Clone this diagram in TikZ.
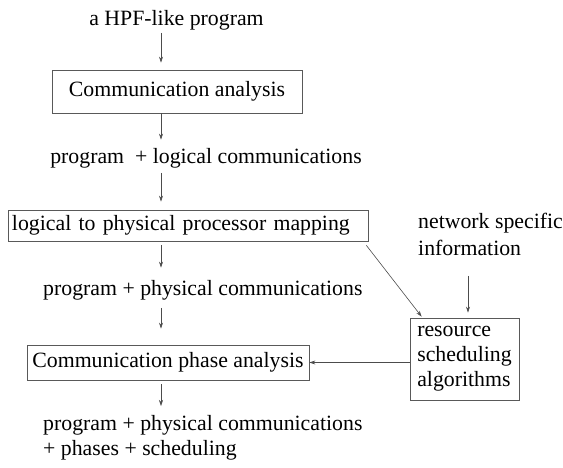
\documentclass[tikz,border=0pt]{standalone}
\usepackage{fontspec}
\setmainfont{Liberation Serif}
\usetikzlibrary{arrows.meta}
\begin{document}
\begin{tikzpicture}
[x=1pt,y=1pt,
  font=\fontsize{21.8}{25}\selectfont,
  boxdecorate/.style={draw=black!65,line width=0.7pt,inner sep=0pt},
  textdecorate/.style={inner sep=0pt},
  linedecorate/.style={-{Stealth[length=6pt,width=4pt]},draw=black!70,line width=0.6pt}]
\useasboundingbox (0,0) rectangle (563,-467);
% columns of the arrows
\coordinate (axis) at (161,0);
\coordinate (netcol) at (468,0);
% nodes: texts and boxes
\node (hpf) at (176.5,-25) [textdecorate,anchor=base] {a HPF-like program};
\node (comm) at (177,-91.5) [boxdecorate,minimum width=250pt,minimum height=43pt] {Communication analysis};
\node (logic) at (206,-163) [textdecorate,anchor=base] {program~ + logical communications};
\node (map) at (188,-225.5) [boxdecorate,minimum height=31pt,text width=352pt,inner xsep=4pt,align=left] {logical to physical processor mapping};
\node (phys) at (43,-295) [textdecorate,anchor=base west] {program + physical communications};
\node (phase) at (168,-362.5) [boxdecorate,minimum width=282pt,minimum height=35pt] {Communication phase analysis};
\node (result) at (43,-415) [textdecorate,anchor=north west,align=left] {program + physical communications\\+ phases + scheduling};
\node (net) at (418,-213) [textdecorate,anchor=north west,align=left] {network specific\\[2pt]information};
\node (sched) at (464.5,-359) [boxdecorate,minimum width=109pt,minimum height=82pt,align=left] {resource\\scheduling\\algorithms};
% arrows
\draw[linedecorate,shorten <=3pt,shorten >=7pt] (hpf.south -| axis) -- (comm.north -| axis);
\draw[linedecorate,shorten >=8pt] (comm.south -| axis) -- (logic.north -| axis);
\draw[linedecorate,shorten <=5pt,shorten >=8pt] (logic.south -| axis) -- (map.north -| axis);
\draw[linedecorate,shorten <=4pt,shorten >=12pt] (map.south -| axis) -- (phys.north -| axis);
\draw[linedecorate,shorten <=8pt,shorten >=16pt] (phys.south -| axis) -- (phase.north -| axis);
\draw[linedecorate,shorten <=4pt,shorten >=9pt] (phase.south -| axis) -- (result.north -| axis);
\draw[linedecorate,shorten <=20pt,shorten >=5pt] (net.south -| netcol) -- (sched.north -| netcol);
\draw[linedecorate] ([xshift=-2pt,yshift=-4pt]map.south east) -- ([xshift=12pt,yshift=1pt]sched.north west);
\draw[linedecorate] (sched.west |- phase.east) -- (phase.east);
\end{tikzpicture}
\end{document}
